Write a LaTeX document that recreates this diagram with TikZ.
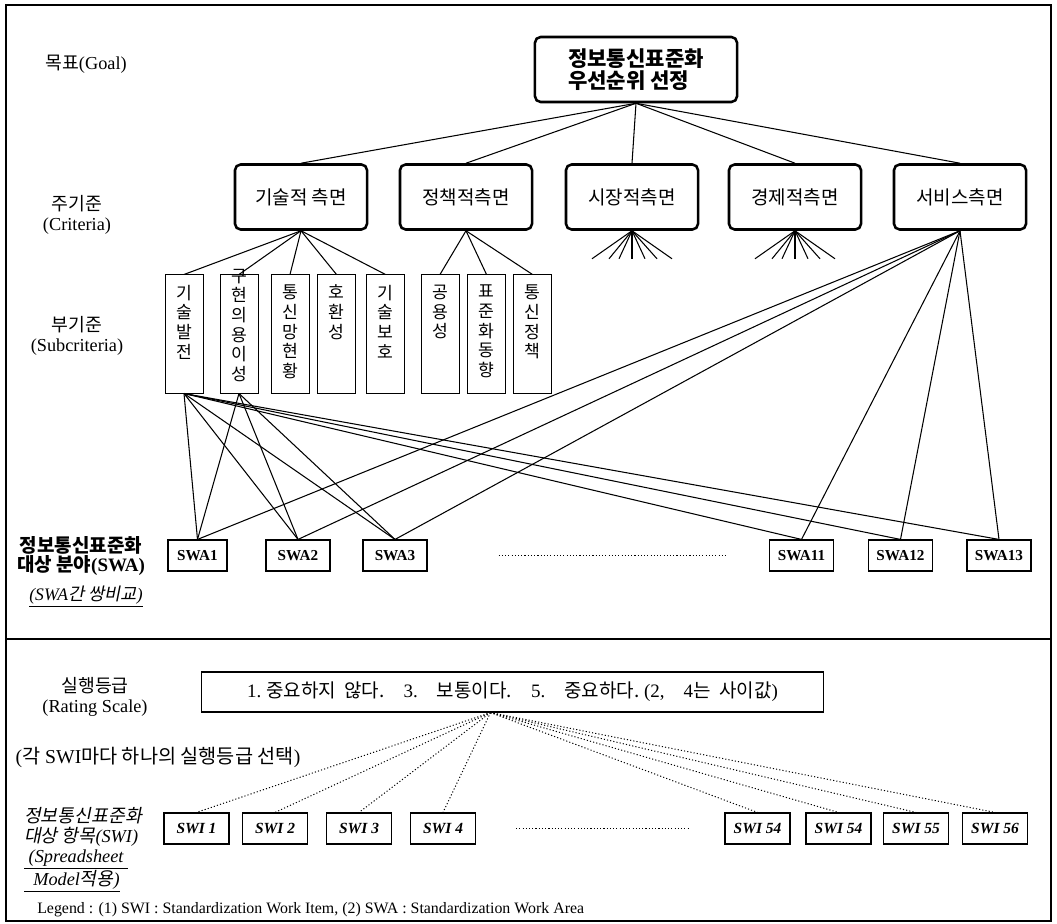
\documentclass[tikz,border=0pt]{standalone}
\usepackage{fontspec}
\setmainfont{Liberation Serif}
\newfontfamily\kr{Noto Sans CJK KR}
\newfontfamily\krit[FakeSlant=0.2]{Noto Sans CJK KR}
\usetikzlibrary{positioning}

\begin{document}
\begin{tikzpicture}[x=0.025cm,y=-0.025cm,
    mainbox/.style={draw,line width=1.8pt,rounded corners=4pt,align=center,
      minimum width=3.3cm,minimum height=1.625cm,font=\kr\fontsize{13.5}{15}\selectfont},
    subbox/.style={draw,line width=0.7pt,inner sep=0pt,
      minimum width=0.95cm,minimum height=2.95cm,font=\kr\fontsize{12.2}{14}\selectfont},
    swabox/.style={draw,line width=0.8pt,inner sep=0pt,
      minimum width=1.6cm,minimum height=0.775cm,font=\bfseries\fontsize{10.8}{12}\selectfont},
    swibox/.style={draw,line width=0.8pt,inner sep=0pt,
      minimum width=1.625cm,minimum height=0.775cm,font=\bfseries\itshape\fontsize{11}{12}\selectfont},
    lbl/.style={align=center,font=\fontsize{13}{14}\selectfont},
    link/.style={line width=0.75pt},
    dotlink/.style={line width=0.7pt,dash pattern=on 0.8pt off 1.5pt}]

    \useasboundingbox (0,0) rectangle (1057,924);

    % --------------------------------------------------------- %
    % ------------- frame
    % --------------------------------------------------------- %
    \draw[line width=0.8pt] (6,5) rectangle (1051,921);
    \draw[line width=0.8pt] (6,639) -- (1051,639);

    % --------------------------------------------------------- %
    % ------------- level names (left column)
    % --------------------------------------------------------- %
    \node[lbl] (lgoal) at (86,64) {{\kr 목표}(Goal)};
    \node[lbl] (lcrit) at (77,215) {{\kr 주기준}\\(Criteria)};
    \node[lbl] (lsub) at (77,336) {{\kr 부기준}\\(Subcriteria)};
    \node[lbl,font=\bfseries\fontsize{13.5}{13.8}\selectfont] (lswa) at (81,556) {{\kr 정보통신표준화}\\{\kr 대상 분야}(SWA)};
    \node[lbl,font=\itshape\fontsize{12.5}{14}\selectfont] (lcmp) at (86,597) {\underline{(SWA{\krit 간 쌍비교})}};

    % --------------------------------------------------------- %
    % ------------- goal node
    % --------------------------------------------------------- %
    \node[mainbox,minimum width=5.05cm,align=left,font=\kr\bfseries\fontsize{15}{15.8}\selectfont] (goal) at (636,69.5) {정보통신표준화\\우선순위 선정};

    % --------------------------------------------------------- %
    % ------------- criteria
    % --------------------------------------------------------- %
    \node[mainbox] (crit1) at (301,197) {기술적 측면};
    \node[mainbox] (crit2) at (466,197) {정책적측면};
    \node[mainbox] (crit3) at (632,197) {시장적측면};
    \node[mainbox] (crit4) at (795,197) {경제적측면};
    \node[mainbox] (crit5) at (960,197) {서비스측면};
    \foreach \i in {1,...,5}
      \draw[link] (goal.south) -- (crit\i.north);

    % --- open fans below two criteria
    \foreach \c in {3,4}
      \foreach \dx [count=\k] in {-40,-23,-13,0,13,25,40} {
        \path (crit\c.south) ++(\dx,28) coordinate (fan\c\k);
        \draw[link] (crit\c.south) -- (fan\c\k);
      }

    % --------------------------------------------------------- %
    % ------------- subcriteria
    % --------------------------------------------------------- %
    \foreach \i/\x/\txt in {1/184/{기\\술\\발\\전},
                            2/239/{\vspace*{-0.4cm}구\\현\\의\\용\\이\\성},
                            3/290/{통\\신\\망\\현\\황},
                            4/336.5/{호\\환\\성},
                            5/385.5/{기\\술\\보\\호},
                            6/440/{공\\용\\성},
                            7/486.5/{표\\준\\화\\동\\향},
                            8/532.5/{통\\신\\정\\책}}
      \node[subbox] (sub\i) at (\x,334) {\parbox[c][2.45cm][t]{0.9cm}{\centering\txt}};
    \foreach \i in {1,...,5}
      \draw[link] (crit1.south) -- (sub\i.north);
    \foreach \i in {6,7,8}
      \draw[link] (crit2.south) -- (sub\i.north);

    % --------------------------------------------------------- %
    % ------------- work areas (SWA)
    % --------------------------------------------------------- %
    \node[swabox,minimum width=1.475cm] (swa1) at (197.5,555.5) {SWA1};
    \node[swabox] (swa2) at (298,555.5) {SWA2};
    \node[swabox] (swa3) at (395,555.5) {SWA3};
    \node[swabox] (swa11) at (801.5,555.5) {SWA11};
    \node[swabox] (swa12) at (900.5,555.5) {SWA12};
    \node[swabox] (swa13) at (999,555.5) {SWA13};
    \draw[dotlink] ([xshift=1.775cm]swa3.east) -- ([xshift=-1.05cm]swa11.west);

    \foreach \j in {1,2,3,11,12,13} {
      \draw[link] (sub1.south) -- (swa\j.north);
      \draw[link] (crit5.south) -- (swa\j.north);
    }
    \foreach \j in {1,2,3}
      \draw[link] (sub2.south) -- (swa\j.north);

    % --------------------------------------------------------- %
    % ------------- rating scale
    % --------------------------------------------------------- %
    \node[lbl] (lrate) at (95,697) {{\kr 실행등급}\\(Rating Scale)};
    \node[draw,line width=0.8pt,minimum width=15.525cm,minimum height=1cm,font=\fontsize{13.5}{14}\selectfont] (rate) at (512.5,692)
      {1.~{\kr 중요하지\ \ 않다.}\quad 3.\quad{\kr 보통이다.}\quad 5.\quad{\kr 중요하다.}\ (2,\quad 4{\kr 는\ \ 사이값})};
    \node[lbl,font=\fontsize{14}{14}\selectfont] (lsel) at (158,757) {({\kr 각} SWI{\kr 마다 하나의 실행등급 선택})};

    % --------------------------------------------------------- %
    % ------------- work items (SWI)
    % --------------------------------------------------------- %
    \node[lbl,align=left,font=\itshape\fontsize{13}{14}\selectfont] (lswi) at (83,850)
      {{\krit 정보통신표준화}\\{\krit 대상 항목}(SWI)\\\underline{\ (Spreadsheet\ }\\\underline{\ \ Model{\krit 적용})}};
    \foreach \i/\x/\txt in {1/196.5/SWI 1, 2/275/SWI 2, 3/359/SWI 3, 4/443/SWI 4,
                            54/757.5/SWI 54, 54b/838.5/SWI 54, 55/916/SWI 55, 56/995/SWI 56}
      \node[swibox] (swi\i) at (\x,828.5) {\txt};
    \draw[dotlink] ([xshift=1cm]swi4.east) -- ([xshift=-0.875cm]swi54.west);

    \coordinate (rsrc) at ([xshift=-0.55cm]rate.south);
    \foreach \i in {1,2,3,4,54,54b,55,56}
      \draw[dotlink] (rsrc) -- (swi\i.north);

    % --- legend
    \node[anchor=west,inner sep=0pt,font=\fontsize{11.3}{12}\selectfont] (legend) at (37,910)
      {Legend : (1) SWI : Standardization Work Item, (2) SWA : Standardization Work Area};

  \end{tikzpicture}
\end{document}
